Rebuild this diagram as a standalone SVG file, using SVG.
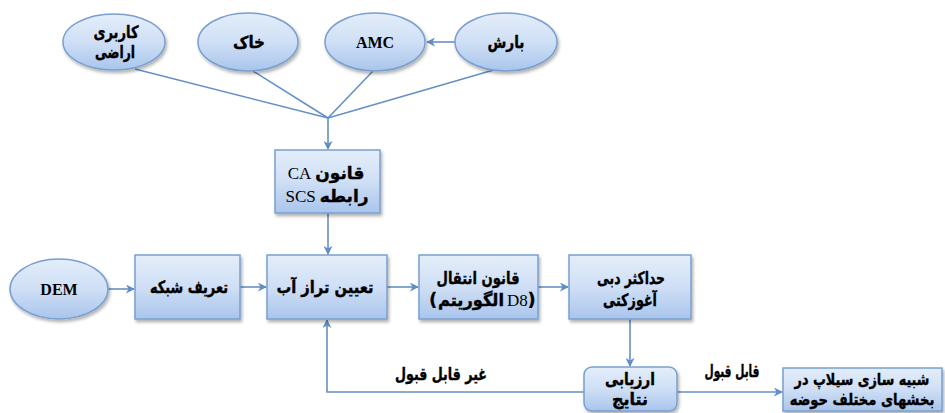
<svg xmlns="http://www.w3.org/2000/svg" width="945" height="413" viewBox="0 0 945 413">
<defs>
<linearGradient id="g" x1="0" y1="0" x2="0" y2="1">
<stop offset="0" stop-color="#e4eefa"/>
<stop offset="0.5" stop-color="#cfdff5"/>
<stop offset="1" stop-color="#a9c5ec"/>
</linearGradient>
<filter id="sh" x="-10%" y="-10%" width="130%" height="140%">
<feDropShadow dx="1.5" dy="2.5" stdDeviation="1.5" flood-color="#000" flood-opacity="0.3"/>
</filter>
<marker id="ar" viewBox="0 0 10 10" refX="9" refY="5" markerWidth="9" markerHeight="9" markerUnits="userSpaceOnUse" orient="auto">
<path d="M0,0 L10,5 L0,10 L3,5 z" fill="#5f8dc4"/>
</marker>
</defs>
<style>
.n{fill:url(#g);stroke:#7a9fcf;stroke-width:1.5;filter:url(#sh)}
.c{fill:none;stroke:#6690c5;stroke-width:1.6}
.fa{font-family:"DejaVu Sans",sans-serif;font-weight:bold;font-size:17px;fill:#000;stroke:#000;stroke-width:0.4}
.fs{font-family:"DejaVu Sans",sans-serif;font-weight:bold;font-size:16px;fill:#000;stroke:#000;stroke-width:0.4}
.la{font-family:"Liberation Serif",serif;font-size:17px;fill:#000;stroke:none}
.lb{font-family:"Liberation Serif",serif;font-weight:bold;font-size:16px;fill:#000}
text{text-anchor:middle}
</style>
<rect width="945" height="413" fill="#fff"/>
<g id="connectors">
<line class="c" x1="455" y1="42" x2="427" y2="42" marker-end="url(#ar)"/>
<polyline class="c" points="135,69 328,118"/>
<polyline class="c" points="253,71 328,118"/>
<polyline class="c" points="373,71 328,118"/>
<polyline class="c" points="497,69 328,118"/>
<line class="c" x1="328" y1="118" x2="328" y2="149" marker-end="url(#ar)"/>
<line class="c" x1="328" y1="213" x2="328" y2="254" marker-end="url(#ar)"/>
<line class="c" x1="108" y1="289" x2="134" y2="289" marker-end="url(#ar)"/>
<line class="c" x1="240" y1="287" x2="266" y2="287" marker-end="url(#ar)"/>
<line class="c" x1="387" y1="287" x2="418" y2="287" marker-end="url(#ar)"/>
<line class="c" x1="538" y1="287" x2="568" y2="287" marker-end="url(#ar)"/>
<line class="c" x1="630" y1="319" x2="630" y2="366" marker-end="url(#ar)"/>
<line class="c" x1="677" y1="392" x2="782" y2="392" marker-end="url(#ar)"/>
<polyline class="c" points="584,392 327,392 327,320" marker-end="url(#ar)"/>
<text class="fa" x="441" y="380" textLength="92" lengthAdjust="spacingAndGlyphs">غیر قابل قبول</text>
<text class="fa" x="732" y="377" textLength="55" lengthAdjust="spacingAndGlyphs">قابل قبول</text>
</g>
<g id="landuse">
<ellipse class="n" cx="114" cy="42" rx="51" ry="28"/>
<text class="fa" x="116" y="38" textLength="45" lengthAdjust="spacingAndGlyphs">کاربری</text>
<text class="fa" x="115" y="58" textLength="40" lengthAdjust="spacingAndGlyphs">اراضی</text>
</g>
<g id="soil">
<ellipse class="n" cx="248" cy="42" rx="50" ry="29"/>
<text class="fa" x="249" y="48" textLength="32" lengthAdjust="spacingAndGlyphs">خاک</text>
</g>
<g id="amc">
<ellipse class="n" cx="375" cy="42" rx="50" ry="29"/>
<text class="lb" x="375" y="48">AMC</text>
</g>
<g id="rain">
<ellipse class="n" cx="506" cy="42" rx="51" ry="29"/>
<text class="fa" x="506" y="48" textLength="37" lengthAdjust="spacingAndGlyphs">بارش</text>
</g>
<g id="ca">
<rect class="n" x="275" y="150" width="105" height="63"/>
<text x="326" y="179" direction="rtl"><tspan class="fa">قانون</tspan> <tspan class="la">CA</tspan></text>
<text x="327" y="202" direction="rtl"><tspan class="fa">رابطه</tspan> <tspan class="la">SCS</tspan></text>
</g>
<g id="dem">
<ellipse class="n" cx="59" cy="289" rx="49" ry="30"/>
<text class="lb" x="59" y="295">DEM</text>
</g>
<g id="grid">
<rect class="n" x="135" y="255" width="105" height="64"/>
<text class="fa" x="189" y="293" textLength="78" lengthAdjust="spacingAndGlyphs">تعریف شبکه</text>
</g>
<g id="water">
<rect class="n" x="267" y="255" width="120" height="64"/>
<text class="fa" x="325" y="293" textLength="97" lengthAdjust="spacingAndGlyphs">تعیین تراز آب</text>
</g>
<g id="transfer">
<rect class="n" x="419" y="255" width="119" height="64"/>
<text class="fa" x="478" y="284" textLength="83" lengthAdjust="spacingAndGlyphs">قانون انتقال</text>
<text class="fa" x="437" y="306" style="text-anchor:end">(</text>
<text class="fa" x="471" y="306" textLength="66" lengthAdjust="spacingAndGlyphs">الگوریتم</text>
<text x="507" y="306" style="text-anchor:start"><tspan class="la">D8</tspan><tspan class="fa">)</tspan></text>
</g>
<g id="peak">
<rect class="n" x="569" y="255" width="122" height="64"/>
<text class="fa" x="631" y="284" textLength="68" lengthAdjust="spacingAndGlyphs">حداکثر دبی</text>
<text class="fa" x="630" y="306" textLength="54" lengthAdjust="spacingAndGlyphs">آغوزکتی</text>
</g>
<g id="eval">
<rect class="n" x="584" y="367" width="93" height="44" rx="8"/>
<text class="fa" x="630" y="385" textLength="50" lengthAdjust="spacingAndGlyphs">ارزیابی</text>
<text class="fa" x="630" y="405" textLength="36" lengthAdjust="spacingAndGlyphs">نتایج</text>
</g>
<g id="sim">
<rect class="n" x="783" y="368" width="159" height="43"/>
<text class="fs" transform="translate(862,385) scale(0.8,1)" x="0" y="0">شبیه سازی سیلاپ در</text>
<text class="fs" transform="translate(862,405) scale(0.82,1)" x="0" y="0">بخشهای مختلف حوضه</text>
</g>
</svg>
